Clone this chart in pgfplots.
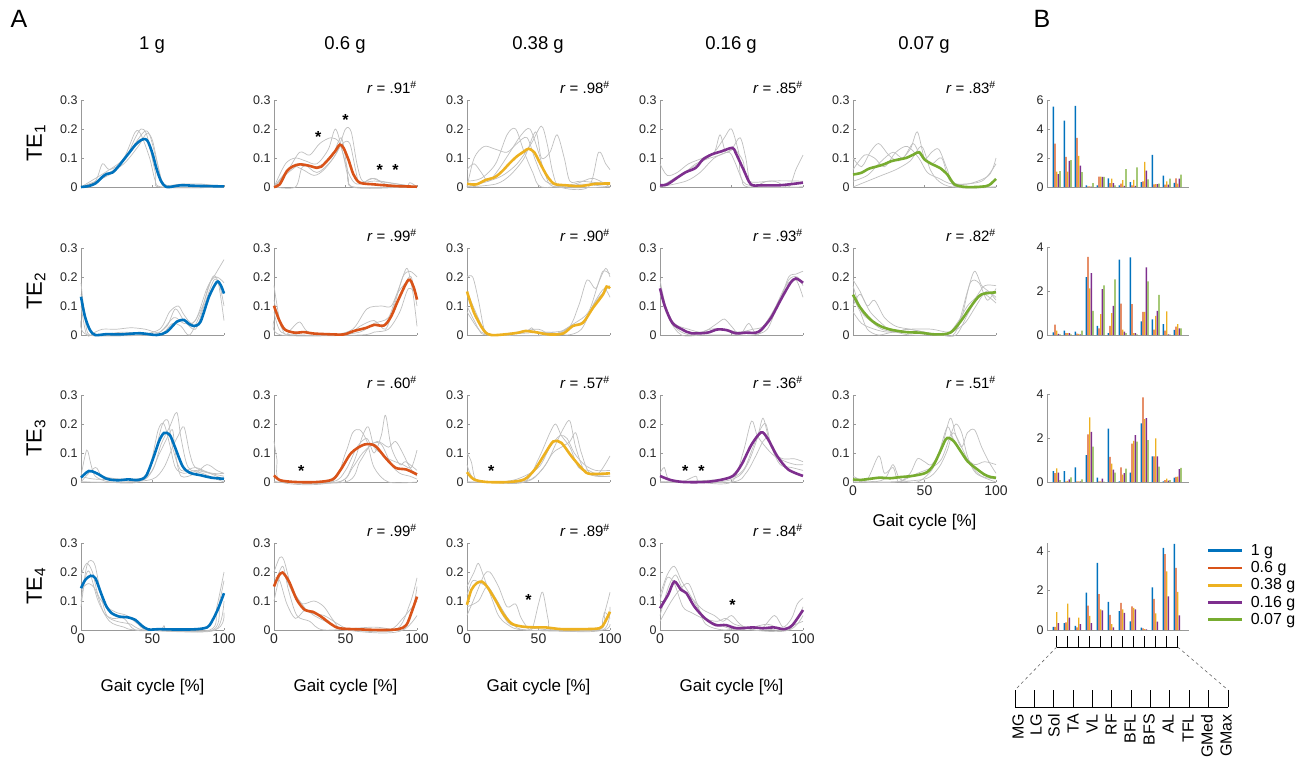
\documentclass[border=0pt]{standalone}
\usepackage{fontspec}
\setmainfont{Liberation Sans}
\usepackage{pgfplots}
\pgfplotsset{compat=1.18}
\usepackage{pgfplotstable}
\definecolor{c1}{HTML}{0072BD}
\definecolor{c2}{HTML}{D95319}
\definecolor{c3}{HTML}{EDB120}
\definecolor{c4}{HTML}{7E2F8E}
\definecolor{c5}{HTML}{77AC30}
\pgfplotsset{
  base/.style={scale only axis, anchor=south west, axis lines=left,
    axis line style={-, draw=black!40, line width=0.6pt},
    tick style={draw=black!40, line width=0.5pt}, tick align=inside, major tick length=2.5pt,
    tick label style={font=\fontsize{12.5}{12.5}\selectfont, text=black!85},
    /pgf/number format/assume math mode=true, clip=false},
  lp/.style={base, width=143pt, height=87pt, xmin=0, xmax=100, ymin=0, ymax=0.3,
    xtick={0,50,100}, ytick={0,0.1,0.2,0.3}, yticklabels={0,0.1,0.2,0.3}, xticklabels={}},
  lpx/.style={xticklabels={0,50,100}, xticklabel style={font=\fontsize{14}{14}\selectfont},
    xlabel={Gait cycle [\%]},
    xlabel style={font=\fontsize{17}{17}\selectfont, at={(axis description cs:0.5,#1)}, anchor=center}},
  gr/.style={black!25, line width=0.7pt, smooth},
  mn/.style={line width=2.6pt, smooth},
  bp/.style={base, width=142pt, xmin=0.12, xmax=13.03, ymin=0, xtick=\empty},
}
\newcommand{\rr}[1]{\node[anchor=east, font=\fontsize{15}{15}\selectfont, inner sep=0pt] at (axis cs:100,0.342) {\textit{r} = .#1\textsuperscript{\#}};}
\newcommand{\st}[2]{\node[font=\fontsize{16}{16}\selectfont\bfseries, inner sep=0pt, yshift=-3.5pt] at (axis cs:#1,#2) {*};}
\newcommand{\bars}[1]{%
 \addplot[ybar, forget plot, bar width=1.3pt, bar shift=-3.33pt, fill=c1, draw=none] table[x=x,y=b]{#1};
 \addplot[ybar, forget plot, bar width=1.3pt, bar shift=-1.67pt, fill=c2, draw=none] table[x=x,y=o]{#1};
 \addplot[ybar, forget plot, bar width=1.3pt, bar shift=0pt, fill=c3, draw=none] table[x=x,y=y]{#1};
 \addplot[ybar, forget plot, bar width=1.3pt, bar shift=1.67pt, fill=c4, draw=none] table[x=x,y=p]{#1};
 \addplot[ybar, forget plot, bar width=1.3pt, bar shift=3.33pt, fill=c5, draw=none] table[x=x,y=g]{#1};}

\pgfplotstableread{
x b o y p g
1 5.54 2.99 1.06 0.88 1.09
2 4.57 2.08 1.06 1.81 1.86
3 5.59 3.39 2.15 1.47 1.02
4 0.11 0.05 0.05 0.02 0.27
5 0.11 0.72 0.72 0.70 0.70
6 0.60 0.27 0.57 0.27 0.11
7 0.11 0.23 0.47 0.07 1.24
8 0.34 0.11 0.50 0.07 1.36
9 0.34 0.38 1.74 1.13 0.52
10 2.22 0.18 0.20 0.20 0.23
11 0.79 0.16 0.38 0.16 0.57
12 0.29 0.59 0.23 0.57 0.86
}\barA
\pgfplotstableread{
x b o y p g
1 0.12 0.47 0.20 0.05 0.03
2 0.20 0.09 0.08 0.08 0.03
3 0.15 0.06 0.05 0.03 0.20
4 2.63 3.55 2.12 2.81 1.10
5 0.42 0.30 0.95 2.08 2.26
6 0.09 0.42 0.99 1.32 2.53
7 3.43 1.43 0.24 0.15 0.09
8 3.53 1.40 0.09 0.09 0.03
9 0.62 1.05 1.05 3.07 2.44
10 0.71 0.25 0.87 1.10 1.82
11 0.50 0.20 1.07 0.03 0.02
12 0.23 0.38 0.50 0.30 0.30
}\barB
\pgfplotstableread{
x b o y p g
1 0.49 0.40 0.62 0.43 0.09
2 0.49 0.03 0.05 0.12 0.21
3 0.67 0.03 0.03 0.03 0.12
4 1.22 2.17 2.94 2.28 1.61
5 0.20 0.03 0.03 0.15 0.02
6 2.43 1.14 0.84 0.56 0.43
7 0.03 0.67 0.33 0.40 0.61
8 0.43 1.75 1.87 2.13 1.83
9 2.66 3.85 2.86 2.90 1.90
10 1.16 1.16 1.98 1.16 0.70
11 0.03 0.09 0.15 0.06 0.09
12 0.20 0.23 0.24 0.58 0.64
}\barC
\pgfplotstableread{
x b o y p g
1 0.16 0.16 0.90 0.35 0
2 0.35 0.38 1.33 0.63 0
3 0.21 0.13 0.63 0.30 0
4 1.89 1.23 0.71 0.35 0
5 3.39 1.81 1.04 0.99 0
6 1.42 0.77 0.30 0.13 0
7 0.95 1.37 1.04 0.87 0
8 0.44 1.20 1.12 1.04 0
9 0.12 0.08 0.05 0.03 0
10 2.16 1.58 0.84 0.43 0
11 4.16 3.84 2.96 1.70 0
12 4.36 3.14 1.93 0.74 0
}\barD

\begin{document}
\begin{tikzpicture}[x=1pt,y=1pt]
\useasboundingbox (0pt,0pt) rectangle (1311pt,-766pt);
% panel letters and titles
\node[font=\fontsize{25}{25}\selectfont] at (19pt,-19pt) {A};
\node[font=\fontsize{25}{25}\selectfont] at (1042pt,-19pt) {B};
\foreach \xx/\tt in {152/1 g, 345/0.6 g, 538/0.38 g, 731/0.16 g, 924/0.07 g}
  \node[font=\fontsize{18.5}{18.5}\selectfont] at (\xx pt,-45pt) {\tt};
\foreach \yy/\nn in {143/1, 291/2, 438/3, 586/4}
  \node[rotate=90, font=\fontsize{22}{22}\selectfont] at (36pt,-\yy pt) {TE\textsubscript{\nn}};

% ===== Row 1 =====
\begin{axis}[lp, at={(81pt,-187pt)}]
\addplot[gr] coordinates {(0,0)(10,0.02)(15,0.08)(20,0.06)(30,0.09)(38,0.17)(42,0.2)(46,0.18)(52,0.05)(56,0)(100,0)};
\addplot[gr] coordinates {(0,0)(15,0.03)(25,0.06)(35,0.13)(44,0.19)(48,0.18)(53,0.09)(58,0.01)(70,0.01)(85,0.01)(100,0)};
\addplot[gr] coordinates {(0,0)(12,0.02)(20,0.05)(30,0.08)(40,0.14)(46,0.185)(50,0.16)(55,0.05)(60,0)(100,0)};
\addplot[gr] coordinates {(0,0)(20,0.06)(30,0.1)(38,0.19)(42,0.18)(48,0.1)(52,0.02)(56,0)(100,0)};
\addplot[mn,c1] coordinates {(0,0)(5,0.003)(10,0.012)(15,0.035)(18,0.045)(22,0.05)(26,0.07)(30,0.095)(34,0.12)(38,0.145)(42,0.162)(45,0.165)(47,0.155)(50,0.115)(53,0.06)(56,0.02)(59,0.002)(62,0)(70,0.006)(80,0.004)(90,0.003)(100,0.002)};
\end{axis}
\begin{axis}[lp, at={(274pt,-187pt)}]
\addplot[gr] coordinates {(0,0)(8,0.08)(15,0.1)(22,0.09)(30,0.08)(38,0.13)(43,0.2)(48,0.12)(52,0.03)(56,0)(100,0)};
\addplot[gr] coordinates {(0,0)(10,0.06)(18,0.12)(25,0.11)(32,0.15)(40,0.17)(46,0.15)(52,0.05)(58,0.01)(70,0.03)(78,0.01)(100,0)};
\addplot[gr] coordinates {(0,0)(12,0.07)(20,0.06)(28,0.04)(35,0.06)(44,0.12)(50,0.2)(54,0.19)(58,0.08)(62,0.02)(72,0.02)(100,0)};
\addplot[gr] coordinates {(0,0)(15,0.0)(20,0.07)(30,0.07)(40,0.1)(47,0.17)(51,0.07)(55,0)(90,0)(95,0.015)(100,0)};
\addplot[gr] coordinates {(0,0)(10,0.05)(20,0.08)(30,0.05)(40,0.09)(48,0.15)(53,0.15)(57,0.06)(60,0.01)(68,0.03)(75,0.02)(100,0.0)};
\addplot[mn,c2] coordinates {(0,0)(4,0.009)(9,0.055)(13.5,0.072)(18,0.078)(24,0.074)(30,0.066)(33,0.07)(38,0.095)(43,0.125)(46,0.146)(48.6,0.135)(52,0.095)(55.6,0.043)(60,0.015)(70,0.009)(77,0.006)(86,0.003)(100,0.001)};
\rr{91}
\st{31}{0.186}\st{50}{0.243}\st{74}{0.07}\st{85}{0.07}
\end{axis}
\begin{axis}[lp, at={(467pt,-187pt)}]
\addplot[gr] coordinates {(0,0.06)(5,0.08)(10,0.05)(15,0.02)(22,0.06)(30,0.12)(38,0.18)(44,0.2)(50,0.12)(55,0.04)(62,0)(100,0)};
\addplot[gr] coordinates {(0,0)(5,0.1)(12,0.14)(20,0.13)(28,0.12)(35,0.15)(42,0.17)(48,0.09)(55,0.02)(70,0.0)(80,0.01)(100,0.0)};
\addplot[gr] coordinates {(0,0)(15,0.02)(25,0.04)(35,0.08)(45,0.15)(52,0.21)(56,0.15)(60,0.05)(65,0.0)(85,0)(92,0.12)(97,0.08)(100,0.06)};
\addplot[gr] coordinates {(0,0)(20,0.01)(30,0.04)(40,0.1)(48,0.19)(52,0.1)(58,0.12)(63,0.18)(68,0.1)(72,0.02)(80,0.02)(100,0.01)};
\addplot[gr] coordinates {(0,0.02)(10,0.03)(20,0.08)(28,0.18)(34,0.2)(40,0.12)(46,0.05)(52,0.0)(75,0.01)(88,0.03)(100,0.0)};
\addplot[mn,c3] coordinates {(0,0.011)(6.5,0.009)(13,0.024)(19.5,0.034)(24.7,0.055)(30,0.083)(35,0.106)(40,0.123)(43,0.132)(47,0.12)(51,0.083)(56,0.038)(61,0.011)(69,0.006)(79,0.003)(90,0.011)(100,0.012)};
\rr{98}
\end{axis}
\begin{axis}[lp, at={(660pt,-187pt)}]
\addplot[gr] coordinates {(0,0.08)(5,0.04)(12,0.05)(20,0.08)(30,0.1)(38,0.12)(45,0.17)(50,0.2)(55,0.12)(60,0.01)(100,0.0)};
\addplot[gr] coordinates {(0,0)(10,0.03)(20,0.06)(30,0.09)(38,0.12)(42,0.18)(46,0.12)(52,0.13)(58,0.09)(62,0.02)(80,0.02)(90,0.0)(95,0.06)(100,0.11)};
\addplot[gr] coordinates {(0,0)(15,0.04)(25,0.08)(35,0.1)(42,0.11)(50,0.13)(56,0.17)(60,0.1)(64,0.0)(75,0.02)(100,0.02)};
\addplot[gr] coordinates {(0,0.0)(18,0.02)(28,0.05)(38,0.1)(48,0.12)(52,0.09)(57,0.03)(62,0.0)(100,0)};
\addplot[mn,c4] coordinates {(0,0.006)(5,0.009)(12,0.032)(18,0.051)(25,0.066)(30,0.095)(36,0.112)(43,0.123)(50.6,0.135)(53,0.117)(58.4,0.06)(63.6,0.009)(71,0.006)(84,0.006)(100,0.015)};
\rr{85}
\end{axis}
\begin{axis}[lp, at={(853pt,-187pt)}]
\addplot[gr] coordinates {(0,0.1)(6,0.07)(12,0.12)(18,0.15)(25,0.11)(32,0.09)(40,0.13)(45,0.19)(50,0.1)(55,0.12)(60,0.13)(66,0.06)(72,0.0)(100,0.0)};
\addplot[gr] coordinates {(0,0.06)(8,0.11)(15,0.1)(22,0.07)(30,0.12)(38,0.14)(46,0.1)(52,0.05)(60,0.03)(70,0.01)(90,0.02)(100,0.08)};
\addplot[gr] coordinates {(0,0.02)(10,0.04)(20,0.09)(28,0.12)(35,0.1)(42,0.15)(47,0.11)(55,0.08)(62,0.1)(68,0.02)(80,0.01)(95,0.04)(100,0.1)};
\addplot[gr] coordinates {(0,0)(10,0.02)(20,0.04)(30,0.06)(40,0.09)(48,0.14)(54,0.06)(60,0.02)(70,0.0)(100,0.0)};
\addplot[mn,c5] coordinates {(0,0.043)(5.8,0.049)(11,0.063)(16,0.07)(21.5,0.078)(26.7,0.089)(32,0.095)(37,0.1)(42.4,0.112)(46.3,0.12)(50,0.095)(55.5,0.078)(60.7,0.066)(66,0.043)(71,0.009)(79,0)(89.5,0.001)(95,0.006)(100,0.028)};
\rr{83}
\end{axis}

% ===== Row 2 =====
\begin{axis}[lp, at={(81pt,-335pt)}]
\addplot[gr] coordinates {(0,0.18)(3,0.05)(6,0.0)(20,0.0)(40,0.0)(55,0.02)(62,0.08)(68,0.1)(72,0.07)(78,0.04)(85,0.1)(92,0.2)(96,0.18)(100,0.05)};
\addplot[gr] coordinates {(0,0.1)(4,0.0)(10,0.01)(15,0.02)(25,0.02)(35,0.025)(45,0.02)(55,0.01)(65,0.06)(72,0.04)(80,0.05)(88,0.16)(94,0.21)(100,0.26)};
\addplot[gr] coordinates {(0,0.14)(5,0.03)(10,0.0)(30,0.01)(50,0)(60,0.03)(66,0.09)(72,0.05)(80,0.02)(86,0.1)(93,0.19)(97,0.17)(100,0.1)};
\addplot[gr] coordinates {(0,0.05)(5,0)(50,0)(58,0.01)(64,0.04)(70,0.03)(76,0.0)(84,0.08)(90,0.18)(95,0.2)(100,0.18)};
\addplot[mn,c1] coordinates {(0,0.132)(2.8,0.063)(6.3,0.017)(10,0)(18,0.003)(27,0.002)(41.5,0.006)(53,0)(60,0.011)(67,0.046)(72,0.052)(75,0.04)(79,0.031)(83.6,0.046)(89.5,0.132)(95,0.183)(97.7,0.172)(100,0.143)};
\end{axis}
\begin{axis}[lp, at={(274pt,-335pt)}]
\addplot[gr] coordinates {(0,0.17)(4,0.05)(8,0.0)(12,0.02)(18,0.045)(24,0.01)(40,0)(55,0.02)(65,0.09)(75,0.1)(82,0.1)(88,0.17)(93,0.23)(97,0.15)(100,0.03)};
\addplot[gr] coordinates {(0,0.08)(5,0.01)(20,0)(50,0.0)(60,0.03)(70,0.05)(78,0.02)(84,0.1)(90,0.2)(95,0.22)(100,0.2)};
\addplot[gr] coordinates {(0,0.12)(6,0.02)(20,0.01)(40,0.0)(60,0.01)(70,0.04)(80,0.06)(86,0.14)(92,0.18)(96,0.2)(100,0.1)};
\addplot[gr] coordinates {(0,0.05)(5,0)(60,0.0)(70,0.01)(80,0.02)(88,0.08)(94,0.16)(100,0.14)};
\addplot[mn,c2] coordinates {(0,0.101)(3.5,0.053)(7.6,0.019)(14.5,0.008)(21,0.01)(28,0.005)(42,0.002)(49,0.002)(56,0.014)(64.7,0.025)(70,0.035)(77,0.033)(82,0.065)(87,0.122)(94,0.19)(97.5,0.167)(100,0.122)};
\rr{99}
\end{axis}
\begin{axis}[lp, at={(467pt,-335pt)}]
\addplot[gr] coordinates {(0,0.2)(4,0.2)(8,0.12)(12,0.02)(16,0)(40,0.01)(45,0.025)(50,0.01)(70,0.02)(78,0.1)(84,0.19)(90,0.16)(95,0.22)(100,0.21)};
\addplot[gr] coordinates {(0,0.1)(5,0.05)(10,0.01)(20,0.0)(35,0.01)(50,0.02)(60,0.0)(75,0.04)(85,0.08)(92,0.18)(97,0.23)(100,0.2)};
\addplot[gr] coordinates {(0,0.15)(6,0.08)(12,0.02)(20,0)(60,0)(72,0.03)(82,0.05)(90,0.12)(96,0.16)(100,0.13)};
\addplot[gr] coordinates {(0,0.08)(8,0.02)(15,0.0)(55,0.01)(70,0.0)(80,0.02)(88,0.1)(94,0.14)(100,0.17)};
\addplot[mn,c3] coordinates {(0,0.15)(5,0.076)(12,0.014)(17,0)(26,0.002)(36,0.008)(41,0.014)(50,0.008)(57,0.002)(67,0.005)(74,0.031)(81,0.042)(88,0.093)(95,0.139)(97.6,0.167)(100,0.161)};
\rr{90}
\end{axis}
\begin{axis}[lp, at={(660pt,-335pt)}]
\addplot[gr] coordinates {(0,0.19)(4,0.1)(10,0.04)(20,0.02)(30,0.01)(40,0.04)(45,0.055)(50,0.03)(56,0.0)(62,0.04)(68,0.0)(76,0.05)(84,0.12)(90,0.2)(95,0.21)(100,0.22)};
\addplot[gr] coordinates {(0,0.14)(5,0.08)(12,0.02)(22,0.0)(35,0.02)(45,0.02)(55,0.01)(65,0.02)(72,0.03)(80,0.09)(88,0.17)(95,0.19)(100,0.13)};
\addplot[gr] coordinates {(0,0.17)(6,0.06)(15,0.0)(30,0.0)(50,0.0)(65,0.0)(75,0.02)(82,0.1)(90,0.19)(96,0.2)(100,0.17)};
\addplot[mn,c4] coordinates {(0,0.161)(3.4,0.099)(8.6,0.042)(15.5,0.019)(22,0.006)(33,0.008)(40,0.019)(46.5,0.017)(53,0.006)(60,0.008)(67,0.008)(71,0.019)(77.6,0.059)(84.5,0.122)(91,0.178)(95,0.195)(100,0.18)};
\rr{93}
\end{axis}
\begin{axis}[lp, at={(853pt,-335pt)}]
\addplot[gr] coordinates {(0,0.19)(5,0.15)(10,0.1)(15,0.12)(22,0.06)(30,0.03)(40,0.02)(50,0.01)(60,0.0)(72,0.02)(80,0.15)(85,0.22)(90,0.17)(95,0.15)(100,0.12)};
\addplot[gr] coordinates {(0,0.17)(6,0.08)(12,0.05)(20,0.02)(30,0.01)(40,0.0)(60,0.0)(70,0.0)(76,0.06)(82,0.18)(88,0.18)(94,0.12)(100,0.16)};
\addplot[gr] coordinates {(0,0.1)(5,0.14)(12,0.08)(20,0.04)(28,0.01)(38,0.02)(50,0.01)(65,0.0)(74,0.05)(80,0.1)(86,0.13)(92,0.17)(100,0.17)};
\addplot[gr] coordinates {(0,0.13)(5,0.08)(10,0.02)(18,0.0)(30,0.01)(60,0)(72,0.0)(80,0.07)(86,0.12)(92,0.14)(100,0.11)};
\addplot[gr] coordinates {(0,0.08)(6,0.04)(15,0.02)(25,0.01)(40,0.02)(55,0.02)(68,0.01)(78,0.04)(86,0.1)(93,0.15)(100,0.13)};
\addplot[mn,c5] coordinates {(0,0.139)(5.3,0.093)(12.3,0.053)(19,0.031)(26,0.019)(37,0.01)(47,0.008)(58,0.002)(68,0.008)(75.4,0.048)(82.5,0.099)(89.5,0.139)(100,0.147)};
\rr{82}
\end{axis}

% ===== Row 3 =====
\begin{axis}[lp, at={(81pt,-482pt)}]
\addplot[gr] coordinates {(0,0.02)(4,0.11)(7,0.06)(10,0.02)(20,0)(40,0)(48,0.05)(54,0.18)(58,0.2)(62,0.13)(66,0.05)(72,0.03)(80,0.04)(90,0.03)(100,0.02)};
\addplot[gr] coordinates {(0,0.0)(10,0.05)(15,0.02)(30,0.01)(45,0.02)(52,0.11)(57,0.2)(61,0.21)(64,0.12)(70,0.04)(80,0.05)(90,0.03)(100,0.01)};
\addplot[gr] coordinates {(0,0.0)(20,0.0)(45,0.01)(55,0.1)(60,0.15)(64,0.18)(66,0.1)(70,0.02)(80,0.03)(88,0.06)(95,0.04)(100,0.03)};
\addplot[gr] coordinates {(0,0.02)(10,0.01)(40,0.01)(50,0.04)(56,0.13)(62,0.19)(67,0.24)(70,0.15)(75,0.05)(85,0.03)(100,0.0)};
\addplot[gr] coordinates {(0,0.0)(30,0.0)(50,0.01)(58,0.05)(64,0.12)(68,0.16)(72,0.19)(76,0.1)(80,0.05)(92,0.03)(100,0.03)};
\addplot[mn,c1] coordinates {(0,0.015)(5.5,0.038)(11,0.03)(18,0.011)(25.5,0.006)(33,0.009)(40,0.007)(45.5,0.021)(51,0.089)(54.5,0.14)(58,0.169)(62,0.163)(65.5,0.123)(71,0.055)(76,0.032)(84,0.023)(91,0.015)(100,0.011)};
\end{axis}
\begin{axis}[lp, at={(274pt,-482pt)}]
\addplot[gr] coordinates {(0,0.14)(2,0.08)(5,0.0)(40,0.0)(50,0.1)(55,0.17)(60,0.18)(65,0.14)(70,0.05)(80,0.0)(100,0.0)};
\addplot[gr] coordinates {(0,0.0)(45,0.0)(55,0.06)(62,0.16)(66,0.19)(70,0.12)(75,0.1)(80,0.08)(90,0.06)(96,0.05)(100,0.11)};
\addplot[gr] coordinates {(0,0.0)(40,0.0)(50,0.04)(58,0.12)(65,0.15)(70,0.1)(75,0.16)(78,0.23)(82,0.12)(88,0.06)(92,0.07)(100,0.04)};
\addplot[gr] coordinates {(0,0.0)(45,0.0)(55,0.05)(62,0.1)(72,0.14)(80,0.12)(85,0.14)(90,0.1)(95,0.05)(100,0.02)};
\addplot[gr] coordinates {(0,0.0)(50,0.0)(60,0.07)(68,0.13)(75,0.13)(82,0.06)(88,0.03)(95,0.02)(100,0.01)};
\addplot[mn,c2] coordinates {(0,0.023)(4.4,0.006)(15,0)(30,0)(41,0.009)(46.7,0.043)(54,0.1)(63,0.129)(70.6,0.125)(78,0.083)(85,0.049)(92.6,0.043)(100,0.026)};
\rr{60}
\st{19}{0.051}
\end{axis}
\begin{axis}[lp, at={(467pt,-482pt)}]
\addplot[gr] coordinates {(0,0.1)(3,0.07)(6,0.01)(15,0.0)(40,0.0)(50,0.08)(58,0.17)(62,0.2)(66,0.16)(72,0.12)(78,0.05)(85,0.04)(92,0.03)(100,0.09)};
\addplot[gr] coordinates {(0,0.06)(5,0.01)(20,0.0)(35,0.01)(50,0.05)(58,0.12)(65,0.16)(70,0.15)(75,0.1)(82,0.06)(90,0.04)(100,0.04)};
\addplot[gr] coordinates {(0,0.0)(30,0.0)(45,0.01)(55,0.06)(62,0.13)(68,0.19)(72,0.21)(76,0.12)(82,0.04)(90,0.02)(100,0.02)};
\addplot[gr] coordinates {(0,0.0)(40,0.0)(52,0.04)(60,0.1)(66,0.12)(72,0.14)(76,0.17)(80,0.1)(86,0.03)(100,0.02)};
\addplot[mn,c3] coordinates {(0,0.034)(4.8,0.009)(14,0)(29,0)(40,0.009)(47.4,0.043)(54.8,0.1)(60.4,0.14)(66,0.135)(73,0.089)(81,0.043)(86,0.028)(100,0.03)};
\rr{57}
\st{17}{0.051}
\end{axis}
\begin{axis}[lp, at={(660pt,-482pt)}]
\addplot[gr] coordinates {(0,0.03)(3,0.05)(6,0.01)(15,0.0)(25,0.02)(28,0.0)(50,0.0)(58,0.1)(64,0.21)(68,0.16)(74,0.12)(80,0.09)(88,0.07)(95,0.06)(100,0.06)};
\addplot[gr] coordinates {(0,0.0)(40,0.0)(55,0.02)(62,0.07)(68,0.15)(72,0.22)(76,0.15)(80,0.1)(86,0.08)(94,0.08)(100,0.07)};
\addplot[gr] coordinates {(0,0.0)(45,0.01)(58,0.04)(65,0.12)(70,0.18)(74,0.2)(78,0.12)(84,0.06)(92,0.05)(100,0.04)};
\addplot[gr] coordinates {(0,0.0)(50,0.0)(60,0.03)(67,0.09)(72,0.14)(76,0.15)(82,0.09)(90,0.04)(100,0.02)};
\addplot[mn,c4] coordinates {(0,0.021)(7.3,0.007)(16.5,0)(31,0.0)(42,0.007)(51,0.021)(57,0.06)(64,0.129)(70.7,0.171)(75,0.152)(82,0.089)(89.7,0.043)(100,0.021)};
\rr{36}
\st{17.6}{0.051}\st{29}{0.051}
\end{axis}
\begin{axis}[lp, lpx=-0.46, at={(853pt,-482pt)}]
\addplot[gr] coordinates {(0,0.0)(10,0.01)(18,0.09)(22,0.03)(28,0.05)(32,0.0)(40,0.03)(45,0.08)(50,0.07)(55,0.06)(62,0.12)(68,0.22)(72,0.16)(76,0.12)(80,0.17)(85,0.18)(90,0.12)(95,0.07)(100,0.03)};
\addplot[gr] coordinates {(0,0.02)(10,0.0)(22,0.01)(28,0.06)(33,0.01)(45,0.0)(55,0.04)(60,0.1)(66,0.19)(70,0.15)(78,0.09)(85,0.06)(92,0.07)(100,0.06)};
\addplot[gr] coordinates {(0,0.0)(30,0.0)(45,0.03)(55,0.05)(62,0.08)(68,0.16)(72,0.2)(76,0.17)(80,0.09)(86,0.03)(100,0.0)};
\addplot[gr] coordinates {(0,0.01)(20,0.0)(50,0.01)(60,0.05)(66,0.11)(70,0.17)(75,0.13)(82,0.06)(90,0.02)(100,0.01)};
\addplot[mn,c5] coordinates {(0,0.009)(4.7,0.007)(11.8,0.011)(18.8,0.015)(26,0.013)(33,0.017)(40,0.02)(47,0.026)(51.8,0.034)(56.5,0.06)(61,0.106)(64.7,0.146)(67,0.152)(70.6,0.14)(75.3,0.106)(80,0.072)(84.7,0.052)(91.8,0.026)(96.5,0.017)(100,0.015)};
\rr{51}
\end{axis}

% ===== Row 4 =====
\begin{axis}[lp, lpx=-0.655, at={(81pt,-630pt)}]
\addplot[gr] coordinates {(0,0.1)(4,0.22)(7,0.24)(10,0.22)(14,0.12)(18,0.05)(25,0.03)(35,0.02)(45,0)(90,0)(95,0.08)(100,0.2)};
\addplot[gr] coordinates {(0,0.19)(4,0.23)(8,0.2)(12,0.12)(18,0.08)(25,0.06)(32,0.05)(40,0.02)(48,0.0)(92,0)(97,0.1)(100,0.17)};
\addplot[gr] coordinates {(0,0.14)(5,0.16)(10,0.14)(16,0.06)(22,0.04)(30,0.04)(38,0.0)(55,0.0)(58,0.015)(62,0)(94,0.0)(100,0.1)};
\addplot[gr] coordinates {(0,0.08)(3,0.18)(6,0.2)(12,0.1)(20,0.03)(30,0.01)(40,0.0)(93,0.0)(100,0.06)};
\addplot[mn,c1] coordinates {(0,0.144)(3,0.173)(6.7,0.187)(10,0.179)(14,0.127)(17.8,0.081)(21.5,0.058)(27,0.046)(32.6,0.044)(38,0.035)(42,0.017)(47,0.002)(55,0.003)(62,0.002)(77,0.002)(86,0.006)(90,0.017)(95.5,0.069)(100,0.127)};
\end{axis}
\begin{axis}[lp, lpx=-0.655, at={(274pt,-630pt)}]
\addplot[gr] coordinates {(0,0.2)(4,0.25)(7,0.24)(12,0.15)(18,0.1)(25,0.06)(35,0.05)(45,0.02)(55,0.0)(85,0.0)(95,0.09)(100,0.18)};
\addplot[gr] coordinates {(0,0.1)(5,0.2)(9,0.17)(14,0.12)(20,0.09)(28,0.1)(35,0.08)(42,0.03)(50,0.0)(90,0.0)(100,0.15)};
\addplot[gr] coordinates {(0,0.15)(6,0.22)(10,0.14)(16,0.05)(25,0.03)(35,0.0)(70,0.01)(90,0.0)(100,0.05)};
\addplot[gr] coordinates {(0,0.18)(4,0.17)(9,0.09)(15,0.04)(22,0.07)(28,0.05)(40,0.02)(50,0.0)(80,0.0)(90,0.04)(100,0.1)};
\addplot[mn,c2] coordinates {(0,0.15)(3,0.185)(6,0.198)(10.5,0.167)(16,0.104)(21.6,0.069)(27,0.063)(33,0.046)(40,0.02)(46,0.006)(61,0.002)(76,0)(87,0.003)(92.5,0.017)(96,0.058)(100,0.115)};
\rr{99}
\end{axis}
\begin{axis}[lp, lpx=-0.655, at={(467pt,-630pt)}]
\addplot[gr] coordinates {(0,0.15)(5,0.2)(8,0.23)(12,0.18)(18,0.1)(22,0.05)(28,0.02)(40,0.0)(90,0.0)(95,0.04)(100,0.13)};
\addplot[gr] coordinates {(0,0.05)(6,0.12)(12,0.19)(16,0.2)(22,0.15)(28,0.08)(34,0.09)(38,0.04)(45,0.0)(50,0.09)(53,0.13)(57,0.03)(60,0.0)(95,0.0)(100,0.08)};
\addplot[gr] coordinates {(0,0.12)(4,0.17)(10,0.16)(16,0.14)(24,0.06)(30,0.02)(40,0.01)(60,0.0)(95,0.0)(100,0.02)};
\addplot[gr] coordinates {(0,0.08)(8,0.1)(14,0.15)(20,0.11)(26,0.06)(32,0.02)(42,0.0)(92,0.0)(96,0.06)(100,0.04)};
\addplot[mn,c3] coordinates {(0,0.087)(3,0.138)(6.7,0.161)(10.4,0.167)(14,0.15)(19.8,0.104)(25,0.058)(31,0.023)(38.4,0.012)(47.8,0.009)(55,0.009)(66,0.003)(81,0.003)(92.5,0.006)(96,0.023)(100,0.063)};
\rr{89}
\st{43}{0.115}
\end{axis}
\begin{axis}[lp, lpx=-0.655, at={(660pt,-630pt)}]
\addplot[gr] coordinates {(0,0.12)(5,0.19)(10,0.22)(15,0.17)(20,0.13)(26,0.08)(32,0.04)(40,0.03)(46,0.04)(52,0.02)(60,0.01)(70,0.0)(80,0.05)(86,0.01)(92,0.04)(96,0.09)(100,0.11)};
\addplot[gr] coordinates {(0,0.05)(6,0.15)(11,0.19)(16,0.14)(24,0.1)(30,0.07)(38,0.05)(44,0.03)(50,0.05)(56,0.02)(65,0.0)(90,0.0)(100,0.08)};
\addplot[gr] coordinates {(0,0.1)(5,0.18)(10,0.16)(16,0.08)(22,0.06)(30,0.04)(40,0.02)(55,0.0)(75,0.02)(85,0.0)(95,0.02)(100,0.03)};
\addplot[gr] coordinates {(0,0.03)(8,0.1)(14,0.14)(20,0.16)(26,0.09)(32,0.02)(45,0.0)(60,0.01)(90,0.0)(100,0.05)};
\addplot[mn,c4] coordinates {(0,0.075)(5.6,0.121)(10,0.167)(14.8,0.138)(18.5,0.127)(24,0.081)(31.5,0.04)(39,0.017)(46,0.017)(53.7,0.006)(65,0.009)(72,0.006)(79.6,0.009)(87,0.003)(92.6,0.017)(100,0.069)};
\rr{84}
\st{50.7}{0.1}
\end{axis}

% ===== Column B: bar charts =====
\begin{axis}[bp, at={(1047pt,-187pt)}, height=87pt, ymax=6, ytick={0,2,4,6}]
\bars{\barA}
\end{axis}
\begin{axis}[bp, at={(1047pt,-335pt)}, height=88pt, ymax=4, ytick={0,2,4}]
\bars{\barB}
\end{axis}
\begin{axis}[bp, at={(1047pt,-482pt)}, height=88pt, ymax=4, ytick={0,2,4}]
\bars{\barC}
\end{axis}
\begin{axis}[bp, at={(1047pt,-630pt)}, height=87pt, ymax=4.4, ytick={0,2,4},
  legend image code/.code={\fill[#1, draw=none] (0pt,-1.4pt) rectangle (34pt,1.4pt);},
  legend style={at={(1.11,1.03)}, anchor=north west, draw=none, fill=none,
    font=\fontsize{16}{17}\selectfont, row sep=0.5pt, column sep=7pt, nodes={inner sep=2pt}},
  legend cell align=left]
\addlegendimage{fill=c1}
\addlegendimage{fill=c2}
\addlegendimage{fill=c3}
\addlegendimage{fill=c4}
\addlegendimage{fill=c5}
\bars{\barD}
\legend{1 g, 0.6 g, 0.38 g, 0.16 g, 0.07 g}
\end{axis}

% muscle bracket
\draw[black, line width=0.8pt] (1056.7pt,-647pt) -- (1177.7pt,-647pt);
\foreach \i in {0,...,11} \draw[black, line width=0.8pt] (1056.7pt+11pt*\i,-647pt) -- (1056.7pt+11pt*\i,-636pt);
\draw[black!60, dashed, line width=0.6pt] (1056.7pt,-647pt) -- (1015pt,-690pt);
\draw[black!60, dashed, line width=0.6pt] (1177.7pt,-647pt) -- (1228pt,-690pt);
\draw[black, line width=0.8pt] (1015pt,-707pt) -- (1228pt,-707pt);
\foreach \i in {0,...,11} \draw[black, line width=0.8pt] (1015pt+19.36pt*\i,-707pt) -- (1015pt+19.36pt*\i,-690pt);
\foreach \xx/\mm in {1018/MG, 1036/LG, 1054/Sol, 1073/TA, 1092/VL, 1111/RF, 1130/BFL, 1149/BFS, 1168/AL, 1188/TFL, 1207/GMed, 1226/GMax}
  \node[rotate=90, anchor=east, inner sep=0pt, font=\fontsize{16}{16}\selectfont] at (\xx pt,-714pt) {\mm};
\end{tikzpicture}
\end{document}
